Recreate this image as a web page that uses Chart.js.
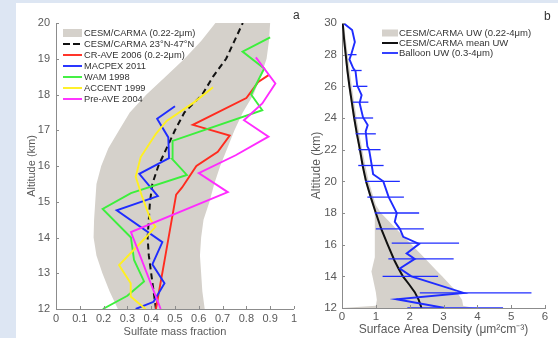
<!DOCTYPE html>
<html><head><meta charset="utf-8">
<script src="https://cdn.jsdelivr.net/npm/chart.js@4.4.1/dist/chart.umd.min.js"></script>
<style>
html,body{margin:0;padding:0;width:558px;height:338px;overflow:hidden;background:#dde6f3;}
#paper{position:absolute;left:16px;top:3px;width:542px;height:335px;background:#fff;}
#c1{position:absolute;left:0;top:0;width:300px;height:342px;}
#c2{position:absolute;left:290px;top:0;width:268px;height:342px;}
.lab{position:absolute;font:12px "Liberation Sans",Arial,sans-serif;line-height:12px;color:#333;}
</style></head><body>
<div id="paper"></div>
<canvas id="c1" width="300" height="342"></canvas>
<canvas id="c2" width="268" height="342"></canvas>
<div class="lab" style="left:293px;top:9px">a</div>
<div class="lab" style="left:544px;top:10px">b</div>
<script>
// ---------- Panel a : sulfate mass fraction ----------
const aXTicks = [0,0.1,0.2,0.3,0.4,0.5,0.6,0.7,0.8,0.9,1];
const aYTicks = [12,13,14,15,16,17,18,19,20];
const bandAAlt   = [12,12.5,13,13.5,14,14.5,15,15.5,16,16.5,17,17.5,18,18.5,19,19.5,20];
const bandALeft  = [0.26,0.225,0.195,0.17,0.158,0.16,0.165,0.17,0.19,0.22,0.265,0.31,0.38,0.46,0.54,0.61,0.67];
const bandARight = [0.625,0.615,0.61,0.605,0.61,0.62,0.645,0.665,0.69,0.72,0.75,0.785,0.83,0.86,0.885,0.895,0.90];
const dashAlt = [12,12.5,13,13.5,14,14.5,15,15.5,16,16.5,17,17.5,18,18.5,19,19.5,20];
const dashVal = [0.42,0.41,0.40,0.39,0.385,0.39,0.395,0.405,0.43,0.465,0.50,0.54,0.615,0.66,0.715,0.75,0.785];
const crAlt = [12.0,13.5,15.2,15.4,16.0,16.4,16.85,17.15,17.9,18.35,18.55];
const crVal = [0.42,0.46,0.505,0.53,0.59,0.68,0.73,0.575,0.80,0.85,0.895];
const macAlt = [12.0,12.2,12.72,13.25,13.87,14.76,15.16,15.78,16.22,16.8,17.32,17.67];
const macVal = [0.335,0.41,0.456,0.405,0.447,0.255,0.428,0.35,0.475,0.472,0.425,0.50];
const wamAlt = [12.0,12.37,12.77,13.37,14.0,14.8,15.24,15.75,16.2,16.7,17.56,18.0,18.73,19.2,19.6];
const wamVal = [0.197,0.30,0.37,0.328,0.315,0.196,0.315,0.55,0.488,0.49,0.867,0.82,0.875,0.784,0.90];
const accAlt = [12.0,12.35,12.72,13.23,14.02,14.3,14.5,15.18,15.7,16.25,16.9,17.26,17.78,18.2];
const accVal = [0.376,0.314,0.314,0.265,0.38,0.418,0.397,0.36,0.335,0.356,0.42,0.465,0.58,0.66];
const preAlt = [12.0,14.15,15.27,15.8,16.3,16.82,17.28,17.75,18.31,19.04];
const preVal = [0.44,0.315,0.722,0.60,0.755,0.893,0.79,0.867,0.922,0.84];

// ---------- Panel b : surface area density ----------
const bXTicks = [0,1,2,3,4,5,6];
const bYTicks = [12,14,16,18,20,22,24,26,28,30];
const bandBAlt   = [12.0,12.15,12.5,13,13.5,14,14.3,15.2,16,16.5,17,17.5,18,18.5,19,20,21,22,23,24,25,26,27,28,29,30];
const bandBLeft  = [0.0,1.0,1.03,1.0,0.95,0.9,0.87,0.97,0.97,0.97,0.97,0.97,0.97,0.90,0.82,0.68,0.58,0.50,0.41,0.33,0.26,0.19,0.13,0.08,0.03,0.0];
const bandBRight = [3.9,3.58,3.55,3.40,3.18,2.96,2.82,2.42,2.06,1.83,1.60,1.38,1.15,1.0,0.93,0.79,0.69,0.60,0.51,0.43,0.36,0.29,0.23,0.17,0.11,0.05];
const meanAlt = [12,12.5,13,13.5,14,14.5,15,16,17,18,19,20,21,22,23,24,25,26,27,28,29,30];
const meanVal = [2.35,2.27,2.15,1.98,1.8,1.67,1.55,1.35,1.16,1.0,0.85,0.71,0.61,0.53,0.44,0.36,0.29,0.22,0.16,0.11,0.06,0.02];
const balAlt = [12.0,12.55,12.95,14.0,14.5,15.1,15.45,16.05,16.5,17.0,17.45,18.0,19.0,20.0,20.45,21.0,22.0,22.2,23.15,23.55,24.05,24.95,25.45,26.05,26.95,27.15,27.7,28.0,28.8,29.55,30.0];
const balVal = [3.04,1.61,3.6,2.05,1.71,2.15,1.91,2.28,1.81,1.71,1.56,1.62,1.38,1.22,0.92,0.88,0.8,0.75,0.7,0.76,0.62,0.52,0.58,0.45,0.4,0.33,0.22,0.27,0.38,0.3,0.04];
const barAlt = [28,27,26,25,24,23,22,21,20,19,18,17,16.1,15.1,14,12.95,12.0];
const barLo  = [0.17,0.27,0.32,0.32,0.36,0.40,0.48,0.48,0.68,0.75,0.97,1.0,1.47,1.37,1.2,2.3,1.93];
const barHi  = [0.43,0.58,0.75,0.78,0.92,1.0,1.14,1.23,1.71,1.83,2.28,2.42,3.46,3.30,2.84,5.6,4.76];

// ---------- styles ----------
const FONT = '"Liberation Sans", Arial, Helvetica, sans-serif';
const TXT = '#5a5a5a', AXIS = '#8c8c8c', BAND = '#d5d1cb';
const RED = '#ff2b1f', BLUE = '#1f2cff', GREEN = '#3cef3c', YELLOW = '#fff020', MAGENTA = '#ff2bff', BLACK = '#111111';

function pts(xs, ys){ return ys.map((y,i)=>({x:xs[i], y:y})); }
function shape(alt, lo, hi){
  const a = alt.map((y,i)=>({x:lo[i], y:y}));
  const b = alt.map((y,i)=>({x:hi[i], y:y})).reverse();
  return a.concat(b);
}
function lineDS(data, color, width, order, dash){
  return {data, borderColor:color, backgroundColor:color, borderWidth:width, borderDash:dash||[],
    pointRadius:0, pointHoverRadius:0, showLine:true, fill:false, tension:0, order};
}
function bandDS(data, order){
  return {data, borderWidth:0, borderColor:'rgba(0,0,0,0)', backgroundColor:BAND, pointRadius:0,
    showLine:true, fill:'shape', tension:0, order};
}
const tickPlugin = { id:'inTicks', afterDraw(chart){
  const ctx = chart.ctx, ca = chart.chartArea, xs = chart.scales.x, ys = chart.scales.y;
  ctx.save(); ctx.strokeStyle = AXIS; ctx.lineWidth = 1;
  xs.ticks.forEach(t=>{ const p = Math.round(xs.getPixelForValue(t.value))+0.5;
    ctx.beginPath(); ctx.moveTo(p, ca.bottom); ctx.lineTo(p, ca.bottom-3); ctx.stroke(); });
  ys.ticks.forEach(t=>{ const p = Math.round(ys.getPixelForValue(t.value))+0.5;
    ctx.beginPath(); ctx.moveTo(ca.left, p); ctx.lineTo(ca.left+3, p); ctx.stroke(); });
  ctx.restore();
}};
function makeLegend(cfg){
  return { id:'boxLegend', afterDraw(chart){
    const ctx = chart.ctx; ctx.save();
    ctx.font = cfg.font + 'px ' + FONT; ctx.textBaseline = 'middle'; ctx.textAlign = 'left';
    cfg.items.forEach((it,i)=>{
      const y = cfg.y0 + i*cfg.dy;
      if (it.box){ ctx.fillStyle = it.box; ctx.fillRect(cfg.x0, y-cfg.bh/2, cfg.x1-cfg.x0, cfg.bh); }
      else { ctx.strokeStyle = it.c; ctx.lineWidth = it.w; ctx.setLineDash(it.dash||[]);
        ctx.beginPath(); ctx.moveTo(cfg.x0, y); ctx.lineTo(cfg.x1, y); ctx.stroke(); ctx.setLineDash([]); }
      ctx.fillStyle = '#333'; ctx.fillText(it.t, cfg.tx, y);
    });
    ctx.restore();
  }};
}
function axes(xmin,xmax,xt,ymin,ymax,yt,xTitle,yTitle,tf,ttf,yW,xH,xPad,yPad){
  return {
    x:{type:'linear', min:xmin, max:xmax,
      afterBuildTicks:s=>{ s.ticks = xt.map(v=>({value:v})); },
      ticks:{autoSkip:false, maxRotation:0, minRotation:0, color:TXT, font:{family:FONT,size:tf}, padding:xPad, callback:v=>String(v)},
      grid:{display:false, drawTicks:false}, border:{display:true, color:AXIS, width:1},
      title:{display:true, text:xTitle, color:TXT, font:{family:FONT,size:ttf}, padding:0},
      afterFit:s=>{ s.height = xH; }},
    y:{type:'linear', min:ymin, max:ymax, position:'left',
      afterBuildTicks:s=>{ s.ticks = yt.map(v=>({value:v})); },
      ticks:{autoSkip:false, color:TXT, font:{family:FONT,size:tf}, padding:yPad, callback:v=>String(v)},
      grid:{display:false, drawTicks:false}, border:{display:true, color:AXIS, width:1},
      title:{display:true, text:yTitle, color:TXT, font:{family:FONT,size:ttf}, padding:0},
      afterFit:s=>{ s.width = yW; }}
  };
}

// ---------- chart a ----------
new Chart(document.getElementById('c1'), {
  type:'scatter',
  data:{datasets:[
    bandDS(shape(bandAAlt, bandALeft, bandARight), 10),
    lineDS(pts(dashVal, dashAlt), BLACK, 2, 6, [6,4]),
    lineDS(pts(crVal, crAlt), RED, 1.9, 5),
    lineDS(pts(macVal, macAlt), BLUE, 1.9, 4),
    lineDS(pts(wamVal, wamAlt), GREEN, 1.9, 3),
    lineDS(pts(accVal, accAlt), YELLOW, 1.9, 2),
    lineDS(pts(preVal, preAlt), MAGENTA, 1.9, 1)
  ]},
  options:{responsive:false, animation:false, events:[],
    layout:{padding:{left:25.4, top:23, right:3, bottom:3.4}},
    plugins:{legend:{display:false}, tooltip:{enabled:false}},
    scales: axes(0,1,aXTicks,12,20,aYTicks,'Sulfate mass fraction','Altitude (km)',11,11,30.6,29.6,3,6)
  },
  plugins:[tickPlugin, makeLegend({x0:63, x1:82, tx:84, y0:33, dy:11, bh:8, font:9.3, items:[
    {t:'CESM/CARMA (0.22-2μm)', box:BAND},
    {t:'CESM/CARMA 23°N-47°N', c:BLACK, w:2, dash:[7,3]},
    {t:'CR-AVE 2006 (0.2-2μm)', c:RED, w:1.9},
    {t:'MACPEX 2011', c:BLUE, w:1.9},
    {t:'WAM 1998', c:GREEN, w:1.9},
    {t:'ACCENT 1999', c:YELLOW, w:1.9},
    {t:'Pre-AVE 2004', c:MAGENTA, w:1.9}
  ]})]
});

// ---------- chart b ----------
const barSets = barAlt.map((a,i)=>lineDS([{x:barLo[i], y:a},{x:barHi[i], y:a}], BLUE, 1.3, 2));
new Chart(document.getElementById('c2'), {
  type:'scatter',
  data:{datasets:[
    bandDS(shape(bandBAlt, bandBLeft, bandBRight), 10),
    lineDS(pts(meanVal, meanAlt), BLACK, 2, 5),
    ...barSets,
    lineDS(pts(balVal, balAlt), BLUE, 1.9, 1)
  ]},
  options:{responsive:false, animation:false, events:[],
    layout:{padding:{left:19.8, top:23, right:13, bottom:4.8}},
    plugins:{legend:{display:false}, tooltip:{enabled:false}},
    scales: axes(0,6,bXTicks,12,30,bYTicks,'Surface Area Density (μm²cm⁻³)','Altitude (km)',11.5,12,32.2,29.2,2,5)
  },
  plugins:[tickPlugin, makeLegend({x0:92, x1:108, tx:109, y0:33, dy:10, bh:7, font:9.5, items:[
    {t:'CESM/CARMA UW (0.22-4μm)', box:BAND},
    {t:'CESM/CARMA mean UW', c:BLACK, w:2},
    {t:'Balloon UW (0.3-4μm)', c:BLUE, w:1.8}
  ]})]
});
</script>
</body></html>
